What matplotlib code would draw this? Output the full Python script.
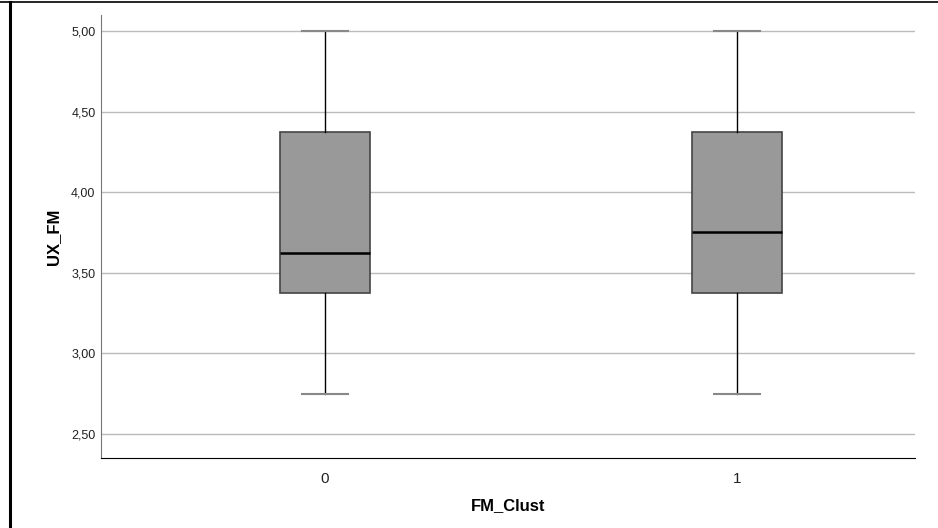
import matplotlib
matplotlib.use("Agg")
import matplotlib.pyplot as plt
from matplotlib.lines import Line2D
from matplotlib.ticker import FuncFormatter

plt.rcParams['font.family'] = ['Liberation Sans', 'DejaVu Sans']

# box statistics
groups = ['0', '1']
whislo = [2.75, 2.75]
q1 = [3.375, 3.375]
med = [3.625, 3.75]
q3 = [4.375, 4.375]
whishi = [5.00, 5.00]
yticks = [2.5, 3.0, 3.5, 4.0, 4.5, 5.0]

stats = []
for i, g in enumerate(groups):
    stats.append({'label': g, 'whislo': whislo[i], 'q1': q1[i], 'med': med[i],
                  'q3': q3[i], 'whishi': whishi[i], 'fliers': []})

fig = plt.figure(figsize=(9.38, 5.28), dpi=100)
ax = fig.add_axes([101/938, 1 - 458/528, (915 - 101)/938, (458 - 15)/528])

ax.bxp(stats, positions=[0, 1], widths=0.22, patch_artist=True,
       boxprops=dict(facecolor='#999999', edgecolor='#444444', linewidth=1.2),
       medianprops=dict(color='black', linewidth=1.8),
       whiskerprops=dict(color='black', linewidth=1.0),
       capprops=dict(color='#888888', linewidth=1.5),
       capwidths=0.11, zorder=3)

ax.set_xlim(-0.544, 1.432)
ax.set_ylim(2.35, 5.10)
ax.set_yticks(yticks)
ax.yaxis.set_major_formatter(FuncFormatter(lambda v, p: ('%.2f' % v).replace('.', ',')))
ax.grid(axis='y', color='#bbbbbb', linewidth=1.0, zorder=0)
ax.set_axisbelow(True)

ax.tick_params(axis='y', length=0, pad=4, labelsize=9, labelcolor='#222222')
ax.tick_params(axis='x', length=0, pad=10, labelsize=11, labelcolor='#222222')

for s in ['top', 'right']:
    ax.spines[s].set_visible(False)
ax.spines['left'].set_color('#777777')
ax.spines['bottom'].set_color('black')

ax.set_ylabel('UX_FM', fontsize=12, fontweight='bold', labelpad=7)
ax.set_xlabel('FM_Clust', fontsize=12, fontweight='bold', labelpad=9)

# frame lines at the page edge
fig.add_artist(Line2D([0, 1], [1 - 2/528, 1 - 2/528], color='black', linewidth=1.2))
fig.add_artist(Line2D([10/938, 10/938], [0, 1 - 2/528], color='black', linewidth=2.2))

fig.savefig('out.png', dpi=100)
